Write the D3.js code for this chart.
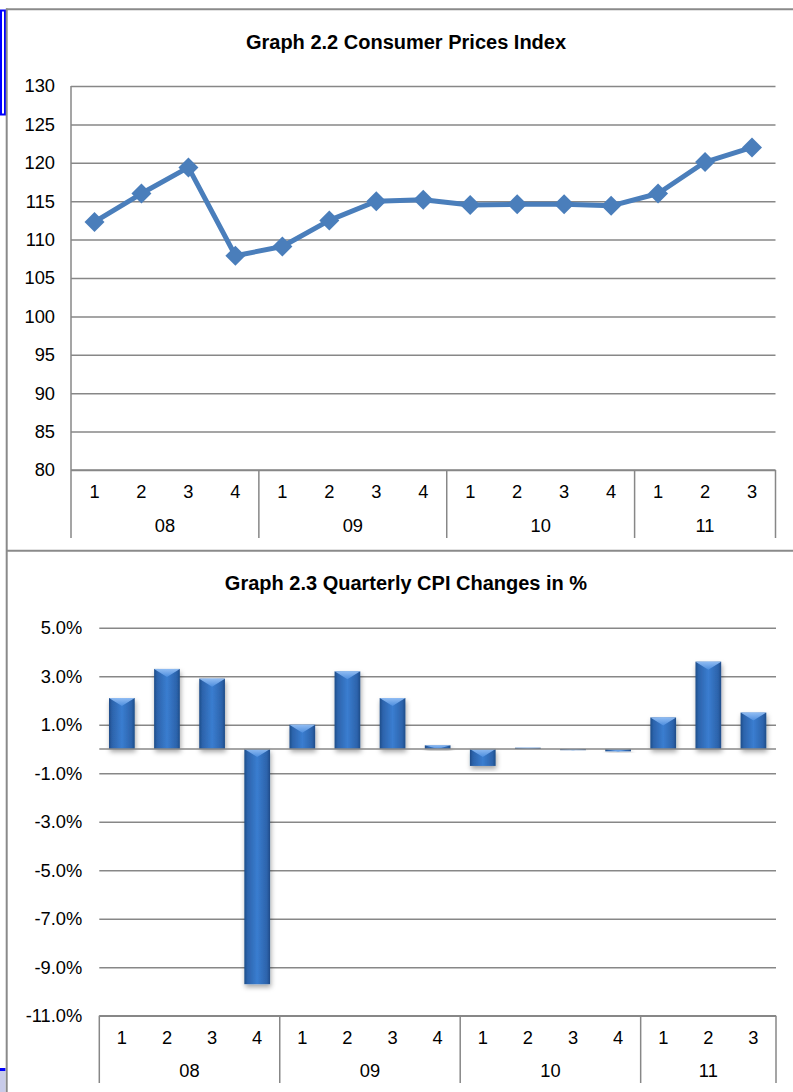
<!DOCTYPE html>
<html><head><meta charset="utf-8">
<script src="https://cdn.jsdelivr.net/npm/d3@7"></script>
<style>
body{margin:0;background:#fff}
svg{display:block}
text{font-family:"Liberation Sans",Arial,sans-serif;fill:#000}
</style>
</head><body>
<svg id="c" width="793" height="1092"></svg>
<script>
// ---- data ----
const quarters = ["1","2","3","4","1","2","3","4","1","2","3","4","1","2","3"];
const years = ["08","09","10","11"];
const yearCounts = [4,4,4,3];
const cpiIndex = [112.3,116.0,119.4,107.9,109.1,112.5,115.0,115.2,114.5,114.6,114.6,114.4,116.0,120.1,122.0];
const cpiChange = [2.1,3.3,2.9,-9.7,1.0,3.2,2.1,0.15,-0.7,0.05,-0.05,-0.1,1.3,3.6,1.5];
const indexTicks = [80,85,90,95,100,105,110,115,120,125,130];
const changeTicks = [-11,-9,-7,-5,-3,-1,1,3,5];
const title1 = "Graph 2.2 Consumer Prices Index";
const title2 = "Graph 2.3 Quarterly CPI Changes in %";

const svg = d3.select("#c");
const GRID = "#878787";
const FONT = 18.3;

// ---- page frame ----
svg.append("rect").attr("x",1).attr("y",10.5).attr("width",4).attr("height",104)
  .attr("fill","#fff").attr("stroke","#0000ff").attr("stroke-width",2);
svg.append("rect").attr("x",0).attr("y",1071).attr("width",5.5).attr("height",21).attr("fill","#c8cbe9");
svg.append("line").attr("x1",0).attr("x2",5.5).attr("y1",1069.5).attr("y2",1069.5).attr("stroke","#0000ff").attr("stroke-width",3);
svg.append("line").attr("x1",6.7).attr("x2",6.7).attr("y1",8.5).attr("y2",1092).attr("stroke","#8a8a8a").attr("stroke-width",2);
svg.append("line").attr("x1",6).attr("x2",793).attr("y1",9.3).attr("y2",9.3).attr("stroke","#8a8a8a").attr("stroke-width",2);
svg.append("line").attr("x1",6).attr("x2",793).attr("y1",550.8).attr("y2",550.8).attr("stroke","#8a8a8a").attr("stroke-width",2);

// ---- defs ----
const defs = svg.append("defs");
const g = defs.append("linearGradient").attr("id","barGrad").attr("x1","0").attr("x2","1").attr("y1","0").attr("y2","0");
[["0%","#1e4c88"],["12%","#2c63ab"],["50%","#3a7dd0"],["88%","#2c63ab"],["100%","#1e4c88"]]
  .forEach(([o,c])=>g.append("stop").attr("offset",o).attr("stop-color",c));
const gt = defs.append("linearGradient").attr("id","bevGrad").attr("x1","0").attr("x2","0").attr("y1","0").attr("y2","1");
[["0%","#9ac4f8"],["100%","#5090e0"]].forEach(([o,c])=>gt.append("stop").attr("offset",o).attr("stop-color",c));
const f = defs.append("filter").attr("id","shadow").attr("x","-30%").attr("y","-30%").attr("width","160%").attr("height","160%");
f.append("feDropShadow").attr("dx",1).attr("dy",3).attr("stdDeviation",2.5).attr("flood-color","#000").attr("flood-opacity",0.35);

// helper for category label box
function categoryBox(x, top, bottom, tickY, yearY){
  const grp = svg.append("g");
  const [x0,x1] = x.range();
  grp.append("line").attr("x1",x0).attr("x2",x1).attr("y1",top).attr("y2",top).attr("stroke",GRID).attr("stroke-width",1.5);
  let idx = 0;
  const bounds = [0];
  yearCounts.forEach(c=>{ idx += c; bounds.push(idx); });
  bounds.forEach(b=>{
    const xx = b < quarters.length ? x(b) : x1;
    grp.append("line").attr("x1",xx).attr("x2",xx).attr("y1",top).attr("y2",bottom).attr("stroke",GRID).attr("stroke-width",1.5);
  });
  grp.selectAll("text.q").data(quarters).join("text").attr("class","q")
    .attr("x",(d,i)=>x(i)+x.bandwidth()/2).attr("y",tickY).attr("text-anchor","middle")
    .attr("font-size",FONT).text(d=>d);
  years.forEach((yr,k)=>{
    const a = x(bounds[k]);
    const b = bounds[k+1] < quarters.length ? x(bounds[k+1]) : x1;
    grp.append("text").attr("x",(a+b)/2).attr("y",yearY).attr("text-anchor","middle").attr("font-size",FONT).text(yr);
  });
}

// ================= Chart 1 =================
{
  const x = d3.scaleBand().domain(d3.range(quarters.length)).range([71,775.5]).padding(0);
  const y = d3.scaleLinear().domain([80,130]).range([470,86]);
  svg.append("text").attr("x",406).attr("y",49).attr("text-anchor","middle")
    .attr("font-size",20).attr("font-weight","bold").text(title1);
  const ax = svg.append("g").attr("transform","translate(71,0)")
    .call(d3.axisLeft(y).tickValues(indexTicks).tickSize(-704.5).tickPadding(16).tickFormat(d=>String(d)));
  ax.select(".domain").remove();
  ax.selectAll(".tick line").attr("stroke",GRID).attr("stroke-width",1.5);
  ax.selectAll(".tick text").attr("font-size",FONT).attr("font-family","Liberation Sans, Arial, sans-serif").attr("fill","#000");
  svg.append("line").attr("x1",71).attr("x2",71).attr("y1",86).attr("y2",470).attr("stroke",GRID).attr("stroke-width",1.5);
  categoryBox(x, 470, 538, 498, 532);
  const line = d3.line().x((d,i)=>x(i)+x.bandwidth()/2).y(d=>y(d));
  svg.append("path").datum(cpiIndex).attr("d",line).attr("fill","none")
    .attr("stroke","#4a7ebb").attr("stroke-width",5).attr("stroke-linejoin","round");
  svg.selectAll("path.mk").data(cpiIndex).join("path").attr("class","mk")
    .attr("d",d3.symbol(d3.symbolSquare,200))
    .attr("transform",(d,i)=>`translate(${x(i)+x.bandwidth()/2},${y(d)}) rotate(45)`)
    .attr("fill","#4a7ebb");
}

// ================= Chart 2 =================
{
  const x = d3.scaleBand().domain(d3.range(quarters.length)).range([99.3,776]).padding(0);
  const y = d3.scaleLinear().domain([-11,5]).range([1015.7,627.7]);
  svg.append("text").attr("x",406).attr("y",590).attr("text-anchor","middle")
    .attr("font-size",20).attr("font-weight","bold").text(title2);
  const pct = d => d.toFixed(1) + "%";
  const ax = svg.append("g").attr("transform","translate(99.3,0)")
    .call(d3.axisLeft(y).tickValues(changeTicks).tickSize(-676.7).tickPadding(17).tickFormat(pct));
  ax.select(".domain").remove();
  ax.selectAll(".tick line").attr("stroke",GRID).attr("stroke-width",1.5);
  ax.selectAll(".tick text").attr("font-size",FONT).attr("font-family","Liberation Sans, Arial, sans-serif").attr("fill","#000");
  categoryBox(x, 1015.7, 1083, 1044, 1077);

  const bw = x.bandwidth()*0.57;
  const bars = svg.append("g");
  cpiChange.forEach((v,i)=>{
    const cx = x(i)+x.bandwidth()/2;
    const top = Math.min(y(v), y(0));
    const h = Math.max(1, Math.abs(y(v)-y(0)));
    const bg = bars.append("g").attr("filter","url(#shadow)");
    bg.append("rect").attr("x",cx-bw/2).attr("y",top).attr("width",bw).attr("height",h).attr("fill","url(#barGrad)");
    const dep = Math.min(8, h);
    bg.append("path").attr("d",`M${cx-bw/2},${top}L${cx+bw/2},${top}L${cx},${top+dep}Z`).attr("fill","url(#bevGrad)").attr("opacity",0.9);
  });
  svg.append("line").attr("x1",99.3).attr("x2",776).attr("y1",y(0)).attr("y2",y(0)).attr("stroke",GRID).attr("stroke-width",1.5);
}
</script>
</body></html>
